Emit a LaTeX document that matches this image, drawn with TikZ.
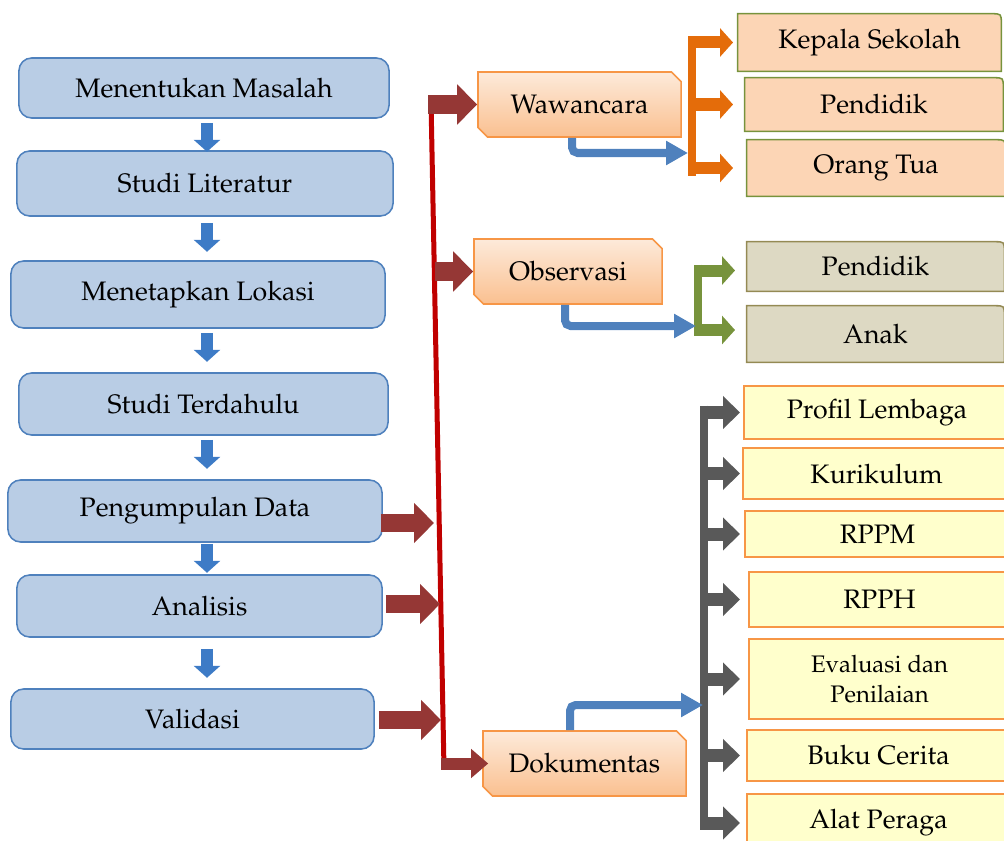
\documentclass[tikz,border=0pt]{standalone}
\usepackage[T1]{fontenc}
\renewcommand{\rmdefault}{ppl}
\usepackage{tikz}
\usetikzlibrary{arrows.meta,positioning,shapes.misc,calc,backgrounds}
\usepackage{xcolor}
\definecolor{stepfill}{HTML}{B9CDE5}
\definecolor{stepline}{HTML}{4F81BD}
\definecolor{flowblue}{HTML}{3D7BC6}
\definecolor{linkred}{HTML}{953735}
\definecolor{trunkred}{HTML}{C00000}
\definecolor{methtop}{HTML}{FDEADA}
\definecolor{methbot}{HTML}{FAC090}
\definecolor{methline}{HTML}{F79646}
\definecolor{peachc}{HTML}{FCD5B5}
\definecolor{olivec}{HTML}{77933C}
\definecolor{tanc}{HTML}{DDD9C3}
\definecolor{tanline}{HTML}{948A54}
\definecolor{docfill}{HTML}{FFFFCC}
\definecolor{orangec}{HTML}{E46C0A}
\definecolor{grayc}{HTML}{595959}

\begin{document}
\begin{tikzpicture}[x=0.025cm, y=-0.025cm,
  font=\fontsize{19}{23}\selectfont,
  stepbox/.style={draw=stepline, fill=stepfill, line width=1.1pt, rounded corners=9pt, inner sep=0pt},
  methbox/.style={chamfered rectangle, chamfered rectangle corners={north east,south west},
    chamfered rectangle xsep=0.12cm, chamfered rectangle ysep=0.12cm,
    draw=methline, line width=1.1pt, top color=methtop, bottom color=methbot,
    inner sep=0pt, minimum height=1.625cm},
  itembox/.style={inner sep=0pt},
  docbox/.style={draw=methline, fill=docfill, line width=1.1pt, inner sep=0pt},
  flowarr/.style={draw=flowblue, line width=0.3cm, -{Triangle[width=0.65cm,length=0.3cm]}},
  linkarr/.style={draw=linkred, line width=0.45cm, -{Triangle[width=0.975cm,length=0.5cm]}},
  docarr/.style={draw=linkred, line width=0.3cm, -{Triangle[width=0.7cm,length=0.425cm]}},
  elbowarr/.style={draw=stepline, line width=0.2cm, rounded corners=4pt, -{Triangle[width=0.575cm,length=0.55cm]}},
  branch/.style={line width=0.3cm, -{Triangle[width=0.7cm,length=0.325cm]}},
  graybranch/.style={draw=grayc, line width=0.325cm, -{Triangle[width=0.8cm,length=0.425cm]}},
  stem/.style={line width=0.2cm}]
  \useasboundingbox (0,0) rectangle (1004,840);

  % research steps
  \node[stepbox, minimum width=9.25cm,  minimum height=1.5cm]   (m1) at (204,88)    {Menentukan Masalah};
  \node[stepbox, minimum width=9.4cm,   minimum height=1.625cm] (m2) at (205,183.5) {Studi Literatur};
  \node[stepbox, minimum width=9.35cm,  minimum height=1.675cm] (m3) at (198,294.5) {Menetapkan Lokasi};
  \node[stepbox, minimum width=9.225cm, minimum height=1.55cm]  (m4) at (203.5,404) {Studi Terdahulu};
  \node[stepbox, minimum width=9.35cm,  minimum height=1.55cm]  (m5) at (195,511)   {Pengumpulan Data};
  \node[stepbox, minimum width=9.125cm, minimum height=1.55cm]  (m6) at (199.5,606) {Analisis};
  \node[stepbox, minimum width=9.075cm, minimum height=1.5cm]   (m7) at (192.5,719) {Validasi};

  \coordinate (ax) at (207,0);
  \foreach \a/\d in {m1/4,m2/6,m3/4,m4/4,m5/1,m6/11}
    \draw[flowarr] ($(ax |- \a.south)+(0,\d)$) -- ++(0,29);

  % methods
  \node[methbox, minimum width=5.075cm] (wa) at (579.5,104.5) {Wawancara};
  \node[methbox, minimum width=4.7cm]   (ob) at (568,271.5)   {Observasi};
  \node[methbox, minimum width=5.075cm] (do) at (584.5,763.5) {Dokumentas};

  \coordinate (rtop) at (431,101);
  \coordinate (rbot) at (444,769);
  \draw[draw=trunkred, line width=0.125cm] (rtop) -- (rbot);

  \draw[linkarr] ($(rtop |- wa.west)+(-3,0)$) -- (wa.west);
  \draw[linkarr] (ob.west -| 435,0) -- (ob.west);
  \draw[linkarr] ($(m5.east)+(-2,12)$) -- (434,523);
  \draw[linkarr] ($(m6.east)+(3,-2)$) -- (440,604);
  \draw[linkarr] ($(m7.east)+(4,1)$) -- (441,720);
  \draw[docarr] ($(rbot |- do.west)+(-3,0)$) -- ($(do.west)+(6,0)$);

  % sources
  \node[itembox, minimum width=6.575cm, minimum height=1.425cm] (kep)  at (869.5,42.5) {Kepala Sekolah};
  \node[itembox, minimum width=6.45cm,  minimum height=1.325cm] (pen)  at (874,104.5)  {Pendidik};
  \node[itembox, minimum width=6.45cm,  minimum height=1.4cm]   (ort)  at (876,168)    {Orang Tua};
  \node[itembox, minimum width=6.425cm, minimum height=1.225cm] (tpen) at (875.5,266.5) {Pendidik};
  \node[itembox, minimum width=6.425cm, minimum height=1.4cm]   (anak) at (875.5,334)  {Anak};

  \begin{scope}[on background layer]
    \foreach \n/\c/\f in {kep/olivec/peachc,pen/olivec/peachc,ort/olivec/peachc,tpen/tanline/tanc,anak/tanline/tanc}
      \draw[draw=\c, fill=\f, line width=1.1pt] (\n.south west) -- (\n.north west)
        -- ($(\n.north east)+(-10,0)$) .. controls (\n.north east) .. ($(\n.north east)+(0,10)$)
        -- (\n.south east) -- cycle;
  \end{scope}

  \node[docbox, minimum width=6.65cm,  minimum height=1.325cm] (pl) at (877,412.5) {Profil Lembaga};
  \node[docbox, minimum width=6.675cm, minimum height=1.275cm] (ku) at (876.5,473.5) {Kurikulum};
  \node[docbox, minimum width=6.625cm, minimum height=1.15cm]  (rm) at (877.5,534) {RPPM};
  \node[docbox, minimum width=6.525cm, minimum height=1.375cm] (rh) at (879.5,599.5) {RPPH};
  \node[docbox, minimum width=6.525cm, minimum height=2.0cm, align=center,
    font=\fontsize{17}{21.3}\selectfont] (ev) at (879.5,679) {Evaluasi dan\\Penilaian};
  \node[docbox, minimum width=6.575cm, minimum height=1.275cm] (bc) at (878.5,755.5) {Buku Cerita};
  \node[docbox, minimum width=6.575cm, minimum height=1.45cm]  (ap) at (878.5,823) {Alat Peraga};

  % brackets
  \coordinate (ostem) at (692,0);
  \coordinate (otip) at (733,0);
  \draw[stem, orangec] ($(ostem |- kep.west)+(0,-6)$) -- ($(ostem |- ort.west)+(0,8)$);
  \foreach \n in {kep,pen,ort}
    \draw[branch, orangec] (ostem |- \n.west) -- (otip |- \n.west);

  \coordinate (gstem) at (698,0);
  \coordinate (gtip) at (735,0);
  \draw[stem, olivec] ($(gstem |- tpen.west)+(0,-2)$) -- ($(gstem |- anak.west)+(0,2)$);
  \draw[branch, olivec] ($(gstem |- tpen.west)+(0,4)$) -- ($(gtip |- tpen.west)+(0,4)$);
  \draw[branch, olivec] ($(gstem |- anak.west)+(0,-4)$) -- ($(gtip |- anak.west)+(0,-4)$);

  \coordinate (kstem) at (704,0);
  \coordinate (ktip) at (740,0);
  \draw[stem, grayc] ($(kstem |- pl.west)+(0,-7)$) -- ($(kstem |- ap.west)+(0,7)$);
  \foreach \n in {pl,ku,rm,rh,ev,bc,ap}
    \draw[graybranch] (kstem |- \n.west) -- (ktip |- \n.west);

  \draw[elbowarr] (wa.south -| 572,0) |- (688,153);
  \draw[elbowarr] (ob.south -| 565,0) |- (696,326);
  \draw[elbowarr] (do.north -| 570,0) |- (703,705);
\end{tikzpicture}
\end{document}
